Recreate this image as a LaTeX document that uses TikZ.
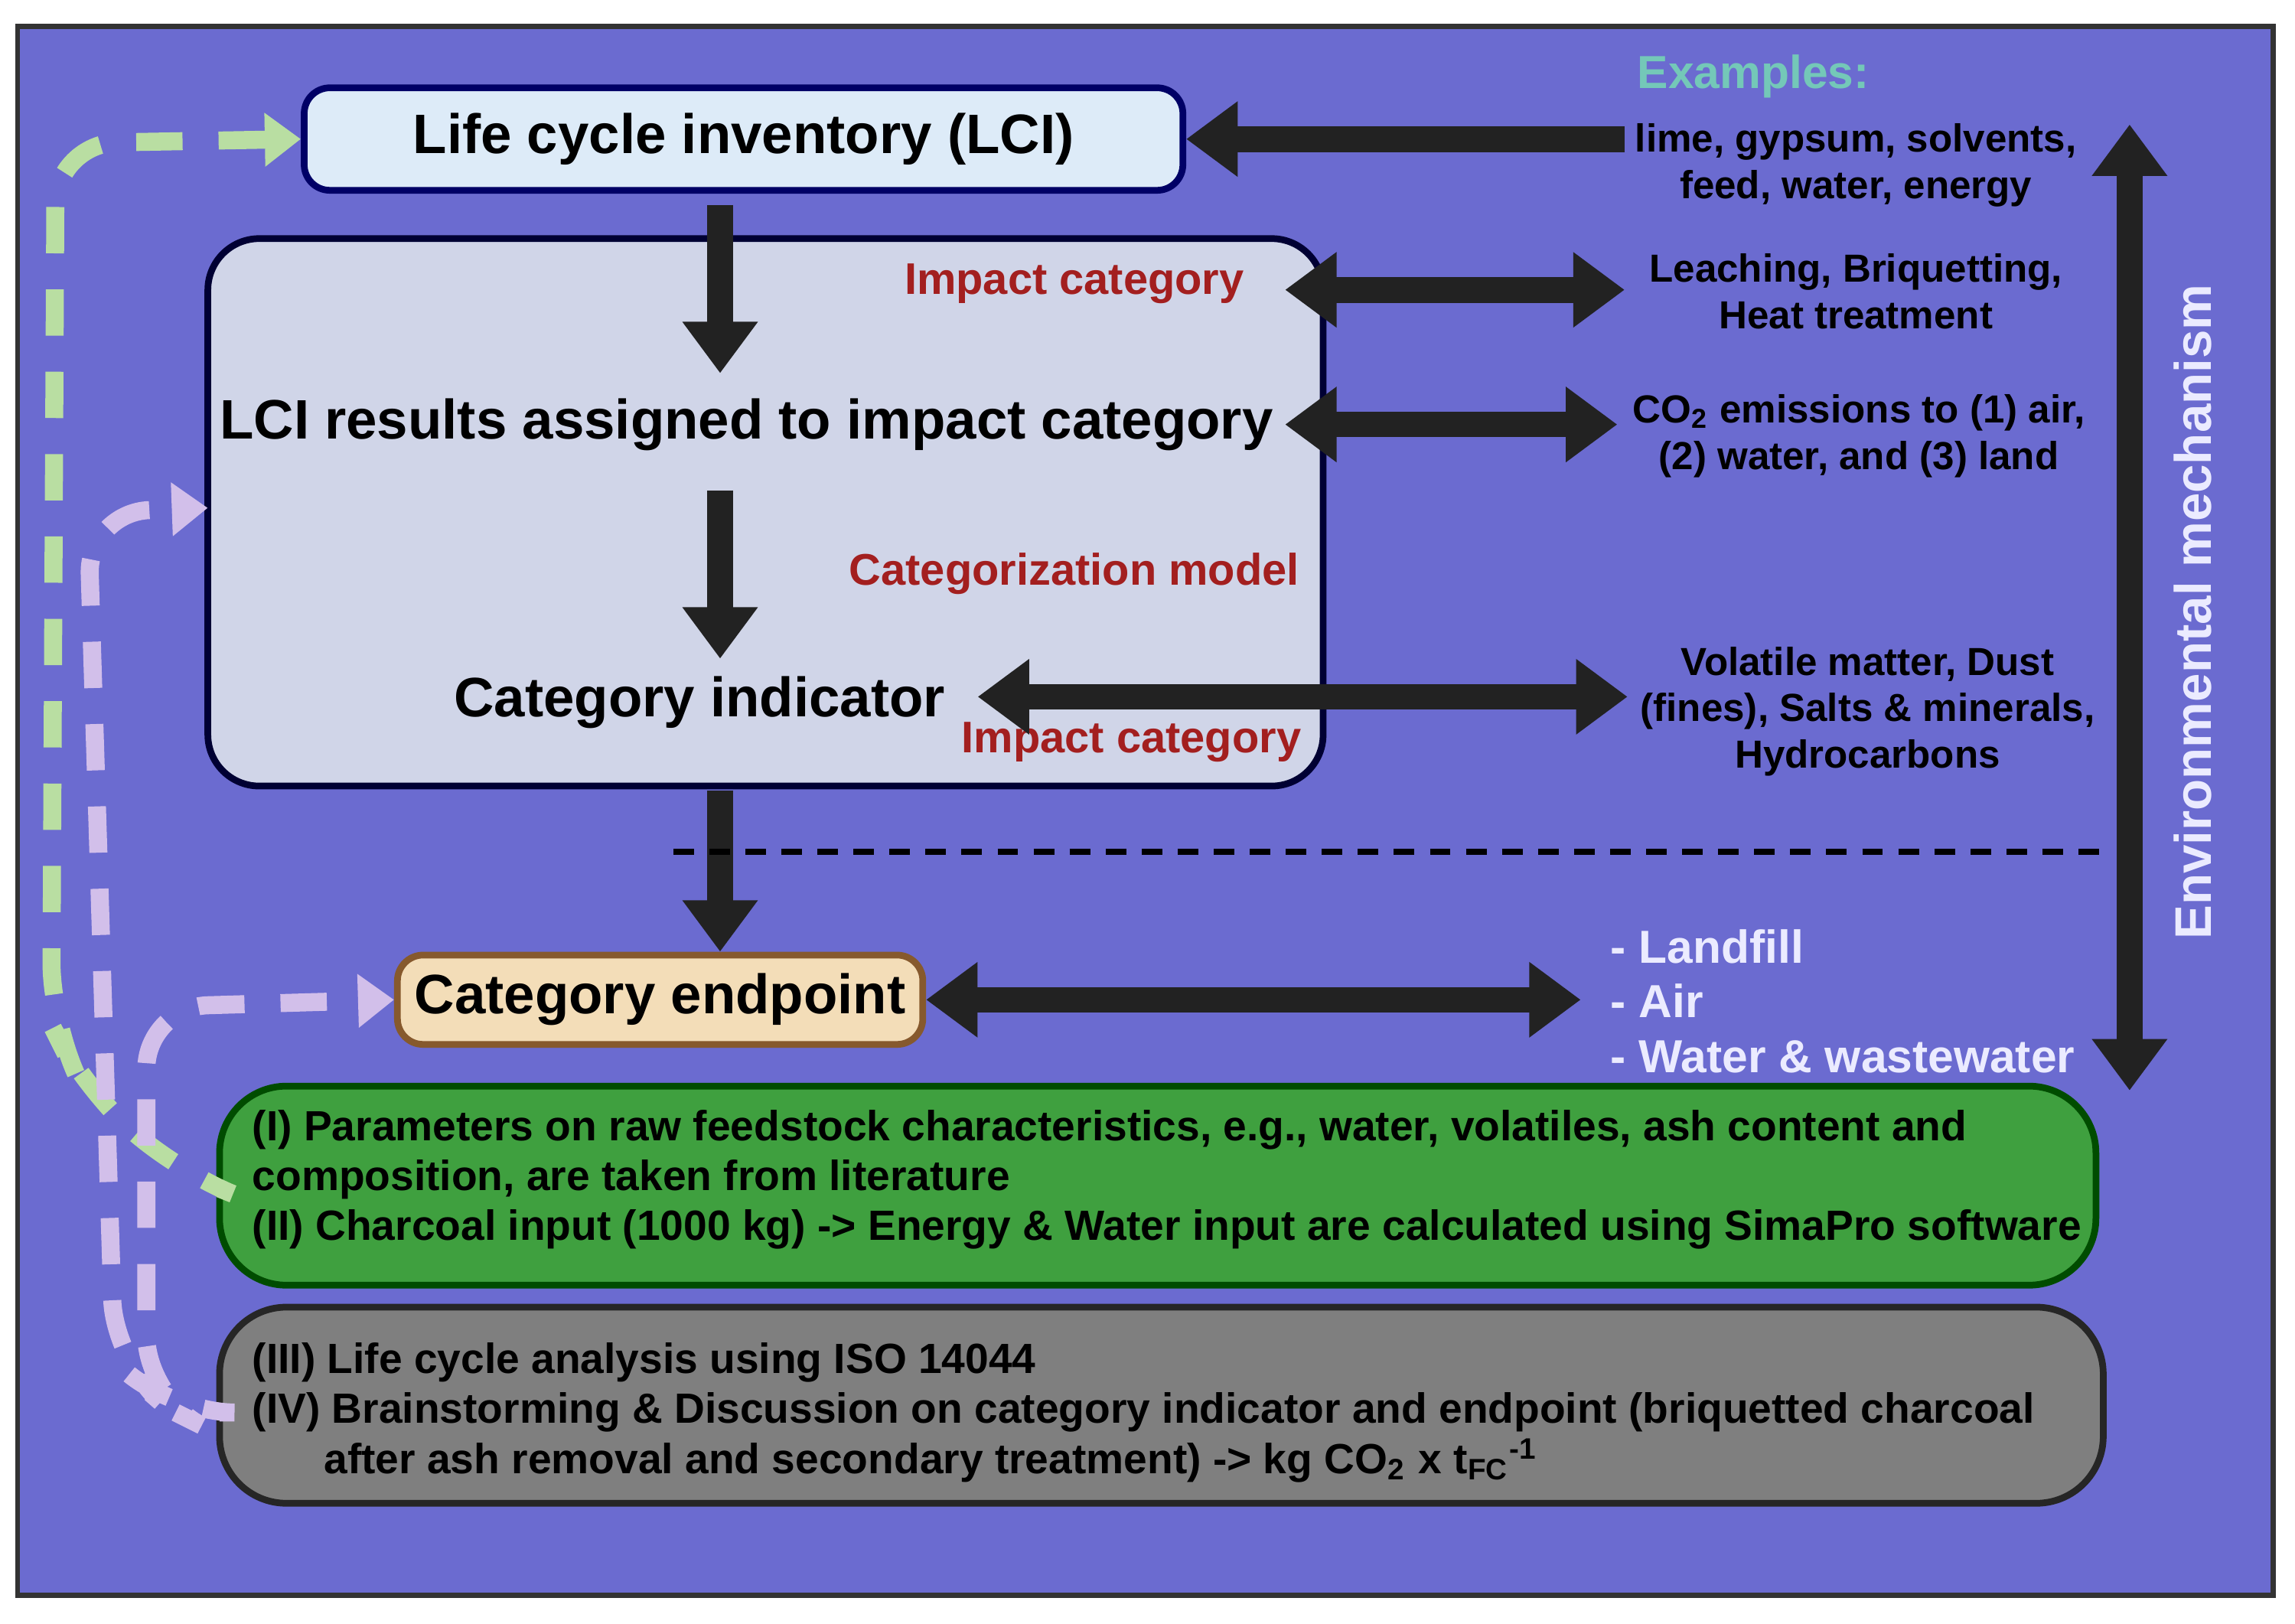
\documentclass[tikz,border=0pt]{standalone}
\usepackage{fontspec}
\setmainfont{Liberation Sans}
\usetikzlibrary{arrows.meta}
\definecolor{bgpurple}{HTML}{6B6BD0}
\definecolor{lcifill}{HTML}{DDEBF8}
\definecolor{boxfill}{HTML}{D0D5E8}
\definecolor{endfill}{HTML}{F3DDB8}
\definecolor{greenfill}{HTML}{3FA03F}
\definecolor{grayfill}{HTML}{7F7F7F}
\definecolor{labred}{HTML}{A31F1F}
\definecolor{exteal}{HTML}{74C8B8}
\definecolor{dashgreen}{HTML}{B9DEA2}
\definecolor{dashlav}{HTML}{D2BFEA}
\definecolor{arrowblack}{HTML}{222222}
\tikzset{
  box/.style={draw, line width=1.3pt, rounded corners=5pt},
  fat/.style={draw=arrowblack, line width=5pt, -{Triangle[length=10pt,width=14pt]}},
  fatboth/.style={draw=arrowblack, line width=5pt, {Triangle[length=10pt,width=14pt]}-{Triangle[length=10pt,width=14pt]}},
  lab/.style={font=\bfseries\fontsize{7.6}{9}\selectfont, align=center},
  red/.style={font=\bfseries\fontsize{8.6}{10}\selectfont, text=labred},
  big/.style={font=\bfseries\fontsize{10.8}{12}\selectfont},
  feedback/.style={line width=3.5pt, dash pattern=on 9pt off 7pt, rounded corners=12pt, -{Triangle[length=7pt,width=10pt]}}
}
\begin{document}
\begin{tikzpicture}[x=0.01cm, y=-0.01cm]
  \useasboundingbox (0,0) rectangle (1568,1109);
  \fill[white] (0,0) rectangle (1568,1109);
  \draw[fill=bgpurple, draw=black!80, line width=1pt] (12,18) rectangle (1553,1090);

  % boxes
  \node[box, draw=blue!40!black, fill=lcifill, minimum width=6cm, minimum height=0.7cm, big]
    (lci) at (508,95) {Life cycle inventory (LCI)};
  \draw[box, draw=blue!20!black, fill=boxfill, rounded corners=10pt] (142,163) rectangle (904,537);
  \coordinate (bigw) at (142,347);
  \node[box, draw=brown!70!black, fill=endfill, minimum width=3.5cm, minimum height=0.61cm, big]
    (endp) at (451,683) {Category endpoint};
  \draw[box, draw=green!30!black, fill=greenfill, rounded corners=13pt] (150,742) rectangle (1432,878);
  \draw[box, draw=black!85, fill=grayfill, rounded corners=13pt] (150,893) rectangle (1437,1027);
  \coordinate (grw) at (150,812);
  \coordinate (gyw) at (150,965);

  % texts in the big box
  \node[big] (res) at (510,290) {LCI results assigned to impact category};
  \node[big] (ind) at (478,480) {Category indicator};
  \node[red] at (734,194) {Impact category};
  \node[red] at (734,392) {Categorization model};
  \node[red] at (773,507) {Impact category};

  % right column
  \node[font=\bfseries\fontsize{9}{11}\selectfont, text=exteal] at (1198,52) {Examples:};
  \node[lab] (ex1) at (1268,113) {lime, gypsum, solvents,\\feed, water, energy};
  \node[lab] (ex2) at (1268,199) {Leaching, Briquetting,\\Heat treatment};
  \node[lab] (ex3) at (1270,298) {CO\textsubscript{2} emissions to (1) air,\\(2) water, and (3) land};
  \node[lab] (ex4) at (1276,486) {Volatile matter, Dust\\(fines), Salts \& minerals,\\Hydrocarbons};
  \node[font=\bfseries\fontsize{9}{10.6}\selectfont, text=white!92!blue, align=left, anchor=west]
    (sinks) at (1088,684) {- Landfill\\- Air\\- Water \& wastewater};
  \node[font=\bfseries\fontsize{10}{12}\selectfont, text=white!92!blue, rotate=90] at (1498,418) {Environmental mechanism};

  % box texts
  \node[font=\bfseries\fontsize{8.2}{9.7}\selectfont, align=left, anchor=west] at (160,806)
    {(I) Parameters on raw feedstock characteristics, e.g., water, volatiles, ash content and\\
     composition, are taken from literature\\(II) Charcoal input (1000 kg) -> Energy \& Water input are calculated using SimaPro software};
  \node[font=\bfseries\fontsize{8.2}{9.7}\selectfont, align=left, anchor=west] at (160,965)
    {(III) Life cycle analysis using ISO 14044\\
     (IV) Brainstorming \& Discussion on category indicator and endpoint (briquetted charcoal\\
     \hspace*{1.7em}after ash removal and secondary treatment) -> kg CO\textsubscript{2} x t\textsubscript{FC}\textsuperscript{-1}};

  % arrows
  \draw[fat] (1110,95) -- (lci.east);
  \draw[fat] (492,140) -- (492,255);
  \draw[fat] (492,335) -- (492,450);
  \draw[fat] (492,540) -- (endp.north -| 492,0);
  \draw[fatboth] (878,198) -- (1110,198);
  \draw[fatboth] (878,290) -- (1105,290);
  \draw[fatboth] (668,476) -- (1112,476);
  \draw[fatboth] (endp.east) -- (1080,683);
  \draw[fatboth] (1455,85) -- (1455,745);
  \draw[line width=1.2pt, dash pattern=on 4pt off 3pt] (460,582) -- (1442,582);

  % dashed feedback paths
  \draw[feedback, dashgreen] (grw) -- (120,800) -- (55,740) -- (35,700) -- (38,98) -- (lci.west);
  \draw[feedback, dashlav] (gyw) -- (118,965) -- (78,930) -- (60,350) -- (bigw);
  \draw[feedback, dashlav] (120,965) -- (100,955) -- (100,688) -- (endp.west);
\end{tikzpicture}
\end{document}
